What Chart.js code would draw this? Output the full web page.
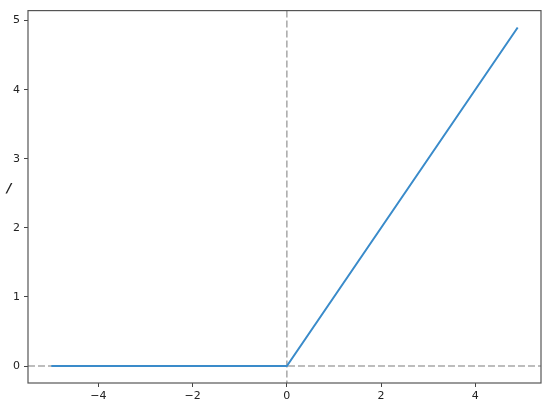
<!DOCTYPE html>
<html>
<head>
<meta charset="utf-8">
<script src="https://cdn.jsdelivr.net/npm/chart.js@4"></script>
<style>
  body { margin: 0; background: #fff; }
  #wrap { width: 550px; height: 408px; }
</style>
</head>
<body>
<div id="wrap"><canvas id="reluChart" width="550" height="408"></canvas></div>
<script>
// ReLU: y = max(0, x), sampled at the corner points
const xValues = [-5, 0, 4.9];
const yValues = [0, 0, 4.9];
const xTicks = [-4, -2, 0, 2, 4];
const yTicks = [0, 1, 2, 3, 4, 5];
const xRange = [-5.495, 5.395];
const yRange = [-0.245, 5.145];
const yLabel = "/";

const points = xValues.map((x, i) => ({ x: x, y: yValues[i] }));
const fmt = v => String(v).replace("-", "\u2212");

// zero lines, frame and the odd y label
const decor = {
  id: "decor",
  beforeDatasetsDraw(chart) {
    const ctx = chart.ctx;
    const a = chart.chartArea;
    const x0 = chart.scales.x.getPixelForValue(0);
    const y0 = chart.scales.y.getPixelForValue(0);
    ctx.save();
    ctx.strokeStyle = "#a8a8a8";
    ctx.lineWidth = 1.5;
    ctx.setLineDash([7, 3]);
    ctx.beginPath();
    ctx.moveTo(a.left, y0);
    ctx.lineTo(a.right, y0);
    ctx.moveTo(x0, a.top);
    ctx.lineTo(x0, a.bottom);
    ctx.stroke();
    ctx.restore();
  },
  afterDraw(chart) {
    const ctx = chart.ctx;
    const a = chart.chartArea;
    ctx.save();
    ctx.strokeStyle = "#555";
    ctx.lineWidth = 1.2;
    ctx.strokeRect(a.left, a.top, a.right - a.left, a.bottom - a.top);
    ctx.fillStyle = "#222";
    ctx.font = "italic bold 13px 'DejaVu Sans'";
    ctx.textAlign = "center";
    ctx.textBaseline = "middle";
    ctx.fillText(yLabel, 9, (a.top + a.bottom) / 2 - 8);
    ctx.restore();
  }
};

const ctx = document.getElementById("reluChart").getContext("2d");
new Chart(ctx, {
  type: "line",
  data: {
    datasets: [{
      data: points,
      borderColor: "#3a8bca",
      borderWidth: 2,
      pointRadius: 0,
      fill: false,
      tension: 0
    }]
  },
  options: {
    responsive: false,
    animation: false,
    layout: { padding: { top: 9, right: 9, left: 0, bottom: 0 } },
    plugins: { legend: { display: false }, tooltip: { enabled: false } },
    scales: {
      x: {
        type: "linear",
        min: xRange[0],
        max: xRange[1],
        afterBuildTicks: s => { s.ticks = xTicks.map(v => ({ value: v })); },
        afterFit: s => { s.height = 25; },
        grid: { drawOnChartArea: false, drawTicks: true, tickLength: 4, color: "#444" },
        border: { display: false },
        ticks: {
          color: "#222",
          padding: 3,
          maxRotation: 0,
          font: { family: "'DejaVu Sans'", size: 11 },
          callback: v => fmt(v)
        }
      },
      y: {
        type: "linear",
        min: yRange[0],
        max: yRange[1],
        afterBuildTicks: s => { s.ticks = yTicks.map(v => ({ value: v })); },
        afterFit: s => { s.width = 28; },
        grid: { drawOnChartArea: false, drawTicks: true, tickLength: 4, color: "#444" },
        border: { display: false },
        ticks: {
          color: "#222",
          padding: 4,
          font: { family: "'DejaVu Sans'", size: 11 },
          callback: v => fmt(v)
        }
      }
    }
  },
  plugins: [decor]
});
</script>
</body>
</html>
